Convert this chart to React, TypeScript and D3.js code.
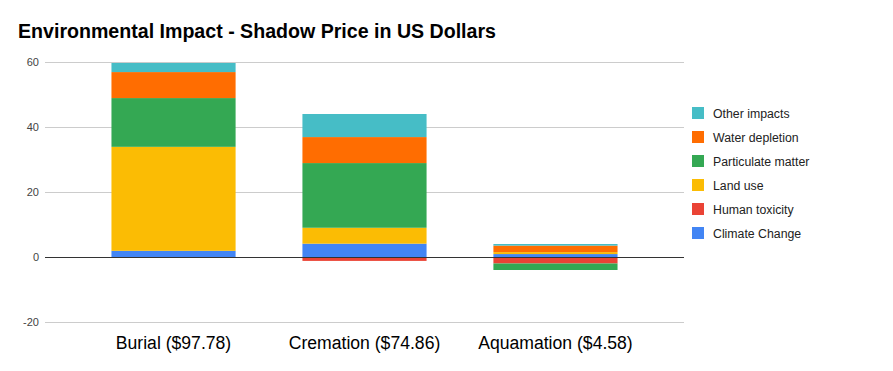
import React, { useEffect, useRef } from "react";
import * as d3 from "d3";

const categories = ["Burial ($97.78)", "Cremation ($74.86)", "Aquamation ($4.58)"];
const seriesNames = [
  "Climate Change",
  "Human toxicity",
  "Land use",
  "Particulate matter",
  "Water depletion",
  "Other impacts",
];
const climateChange = [1.9, 4.1, 0.9];
const humanToxicity = [0, -1.2, -2.0];
const landUse = [32.0, 4.9, 0.6];
const particulateMatter = [15.0, 19.9, -2.0];
const waterDepletion = [8.0, 8.0, 2.0];
const otherImpacts = [2.8, 7.1, 0.5];
const yTicks = [-20, 0, 20, 40, 60];

const colors: Record<string, string> = {
  "Climate Change": "#4285F4",
  "Human toxicity": "#EA4335",
  "Land use": "#FBBC04",
  "Particulate matter": "#34A853",
  "Water depletion": "#FF6D01",
  "Other impacts": "#46BDC6",
};

const App = () => {
  const ref = useRef<SVGSVGElement>(null);

  useEffect(() => {
    const svg = d3.select(ref.current);
    svg.selectAll("*").remove();

    const seriesValues = [
      climateChange,
      humanToxicity,
      landUse,
      particulateMatter,
      waterDepletion,
      otherImpacts,
    ];
    const rows = categories.map((c, i) => {
      const row: any = { category: c };
      seriesNames.forEach((s, j) => (row[s] = seriesValues[j][i]));
      return row;
    });

    const left = 45;
    const right = 684;
    const font = "Arial, 'Liberation Sans', sans-serif";

    const x = d3
      .scaleBand()
      .domain(categories)
      .range([left, right])
      .paddingInner(0.35)
      .paddingOuter(0.348);

    const y = d3.scaleLinear().domain([-20, 60]).range([322, 62]);

    svg
      .append("text")
      .attr("x", 18)
      .attr("y", 38)
      .attr("font-family", font)
      .attr("font-size", 19.6)
      .attr("font-weight", "bold")
      .attr("fill", "#000")
      .text("Environmental Impact - Shadow Price in US Dollars");

    // gridlines + tick labels
    const grid = svg.append("g");
    grid
      .selectAll("line")
      .data(yTicks.filter((t) => t !== 0))
      .join("line")
      .attr("x1", left)
      .attr("x2", right)
      .attr("y1", (d) => Math.round(y(d)) + 0.5)
      .attr("y2", (d) => Math.round(y(d)) + 0.5)
      .attr("stroke", "#cccccc");

    grid
      .selectAll("text")
      .data(yTicks)
      .join("text")
      .attr("x", 39)
      .attr("y", (d) => y(d) + 4)
      .attr("text-anchor", "end")
      .attr("font-family", font)
      .attr("font-size", 11)
      .attr("fill", "#444")
      .text((d) => d);

    const stacked = d3
      .stack()
      .keys(seriesNames)
      .offset(d3.stackOffsetDiverging)(rows);

    svg
      .append("g")
      .selectAll("g")
      .data(stacked)
      .join("g")
      .attr("fill", (d) => colors[d.key])
      .selectAll("rect")
      .data((d) => d)
      .join("rect")
      .attr("x", (d: any) => x(d.data.category)!)
      .attr("width", x.bandwidth())
      .attr("y", (d) => y(Math.max(d[0], d[1])))
      .attr("height", (d) => Math.abs(y(d[0]) - y(d[1])));

    // zero line
    svg
      .append("line")
      .attr("x1", left)
      .attr("x2", right)
      .attr("y1", Math.round(y(0)) + 0.5)
      .attr("y2", Math.round(y(0)) + 0.5)
      .attr("stroke", "#333")
      .attr("stroke-width", 1);

    // x labels
    svg
      .append("g")
      .selectAll("text")
      .data(categories)
      .join("text")
      .attr("x", (d) => x(d)! + x.bandwidth() / 2)
      .attr("y", 348.5)
      .attr("text-anchor", "middle")
      .attr("font-family", font)
      .attr("font-size", 17.6)
      .attr("fill", "#000")
      .text((d) => d);

    // legend
    const legendOrder = [...seriesNames].reverse();
    const legend = svg
      .append("g")
      .selectAll("g")
      .data(legendOrder)
      .join("g")
      .attr("transform", (d, i) => `translate(692, ${107 + i * 24})`);

    legend
      .append("rect")
      .attr("width", 12)
      .attr("height", 12)
      .attr("fill", (d) => colors[d]);

    legend
      .append("text")
      .attr("x", 21)
      .attr("y", 10.5)
      .attr("font-family", font)
      .attr("font-size", 12.3)
      .attr("fill", "#222")
      .text((d) => d);
  }, []);

  return (
    <svg
      ref={ref}
      width={893}
      height={371}
      style={{ display: "block", position: "absolute", left: 0, top: 0 }}
    />
  );
};

export default App;
